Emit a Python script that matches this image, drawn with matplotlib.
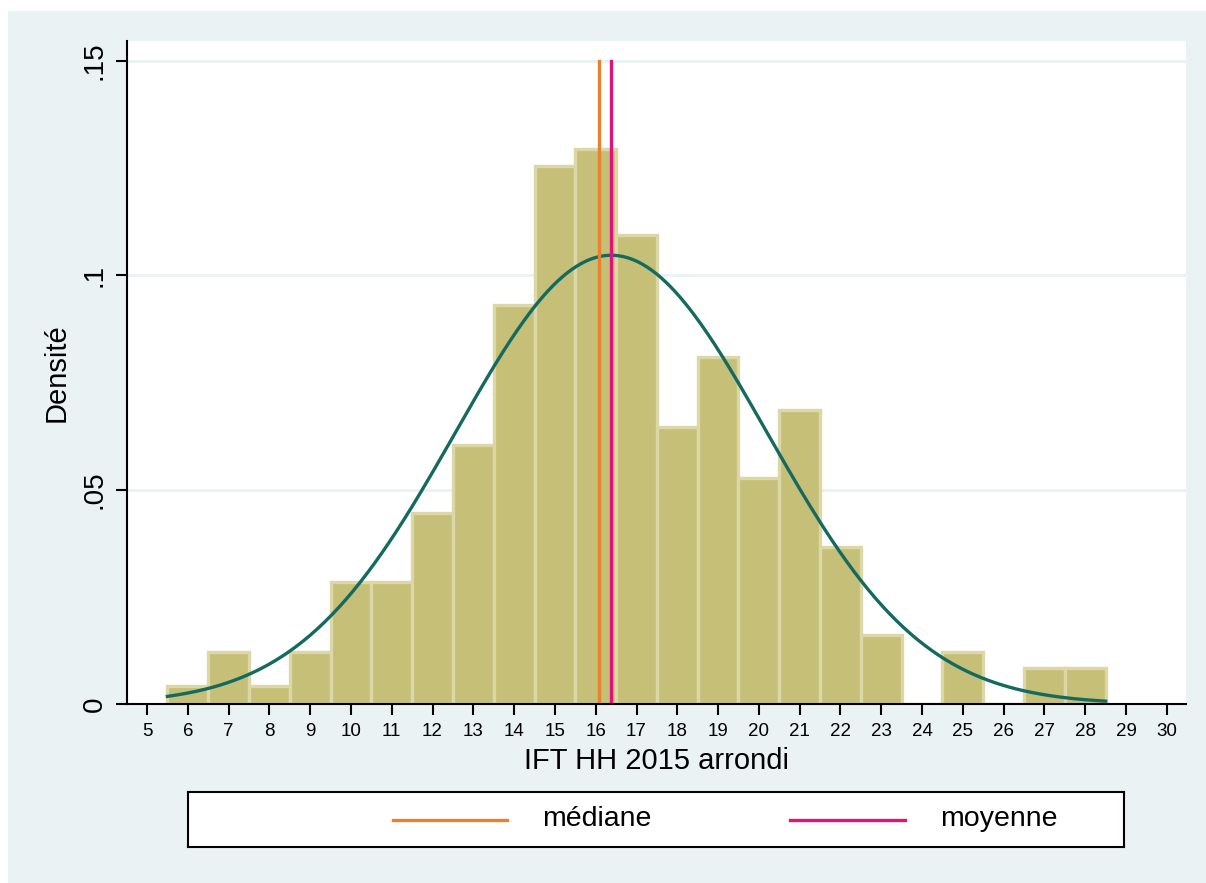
"""
Histogram of IFT HH 2015 (rounded) with normal density overlay,
median and mean markers. Stata-like styling.
"""
import matplotlib
matplotlib.use('Agg')
import matplotlib.pyplot as plt
import numpy as np
from matplotlib.patches import Rectangle

plt.rcParams['font.family'] = ['Liberation Sans', 'DejaVu Sans']

# data
bin_centers = [6, 7, 8, 9, 10, 11, 12, 13, 14, 15, 16, 17,
               18, 19, 20, 21, 22, 23, 24, 25, 26, 27, 28]
densities = [0.0042, 0.0121, 0.0042, 0.0121, 0.0285, 0.0285, 0.0446, 0.0604,
             0.0931, 0.1255, 0.1296, 0.1094, 0.0646, 0.0809, 0.0527, 0.0686,
             0.0366, 0.0161, 0.0, 0.0121, 0.0, 0.0084, 0.0084]
median_val = 16.08
mean_val = 16.38
sd_val = 3.81
curve_range = (5.5, 28.5)
x_ticks = list(range(5, 31))
y_ticks = [0, 0.05, 0.1, 0.15]
y_tick_labels = ['0', '.05', '.1', '.15']
legend_labels = ['médiane', 'moyenne']

BG = '#EAF2F3'
BAR_FILL = '#C6BF77'
BAR_EDGE = '#DCD7A6'
CURVE = '#156A60'
MED_COL = '#E8822E'
MEAN_COL = '#E0127E'

W, H = 1206, 883
fig = plt.figure(figsize=(W / 100, H / 100), dpi=100)
fig.patch.set_facecolor('white')
fig.patches.append(Rectangle((8 / W, 0), 1 - 8 / W, 1 - 11 / H,
                             transform=fig.transFigure, facecolor=BG,
                             edgecolor='none', zorder=-10))

ax = fig.add_axes([127 / W, 1 - 704 / H, (1186 - 127) / W, (704 - 41) / H])
ax.set_facecolor('white')

# gridlines
for yv in y_ticks[1:]:
    ax.axhline(yv, color=BG, lw=2.2, zorder=0)

ax.bar(bin_centers, densities, width=1.0, color=BAR_FILL,
       edgecolor=BAR_EDGE, linewidth=2.4, zorder=2)

xs = np.linspace(curve_range[0], curve_range[1], 400)
pdf = np.exp(-0.5 * ((xs - mean_val) / sd_val) ** 2) / (sd_val * np.sqrt(2 * np.pi))
ax.plot(xs, pdf, color=CURVE, lw=2.4, zorder=3)

ax.plot([median_val, median_val], [0, 0.15], color=MED_COL, lw=2.4, zorder=4)
ax.plot([mean_val, mean_val], [0, 0.15], color=MEAN_COL, lw=2.4, zorder=4)

ax.set_xlim(4.51, 30.47)
ax.set_ylim(0, 0.1547)
ax.set_xticks(x_ticks)
ax.set_xticklabels([str(v) for v in x_ticks], fontsize=13.5)
ax.set_yticks(y_ticks)
ax.set_yticklabels(y_tick_labels, fontsize=20, rotation=90, va='center')
ax.tick_params(axis='both', length=8, width=1.5, color='black')
ax.tick_params(axis='x', pad=6)
ax.tick_params(axis='y', pad=6)

for s in ['top', 'right']:
    ax.spines[s].set_visible(False)
for s in ['left', 'bottom']:
    ax.spines[s].set_linewidth(1.5)
    ax.spines[s].set_zorder(5)

ax.set_xlabel('IFT HH 2015 arrondi', fontsize=21, labelpad=5)
ax.set_ylabel('Densité', fontsize=21, labelpad=8)

# legend box
lx0, lx1, ly0, ly1 = 188, 1124, 792, 847
lax = fig.add_axes([lx0 / W, 1 - ly1 / H, (lx1 - lx0) / W, (ly1 - ly0) / H])
lax.set_xlim(lx0, lx1)
lax.set_ylim(0, 1)
lax.set_xticks([])
lax.set_yticks([])
for s in lax.spines.values():
    s.set_linewidth(1.5)
lax.plot([393, 507], [0.5, 0.5], color=MED_COL, lw=2.4)
lax.text(542, 0.5, legend_labels[0], fontsize=20.5, va='center', ha='left')
lax.plot([790, 905], [0.5, 0.5], color=MEAN_COL, lw=2.4)
lax.text(940, 0.5, legend_labels[1], fontsize=20.5, va='center', ha='left')

fig.savefig('out.png', dpi=100)
plt.close(fig)
